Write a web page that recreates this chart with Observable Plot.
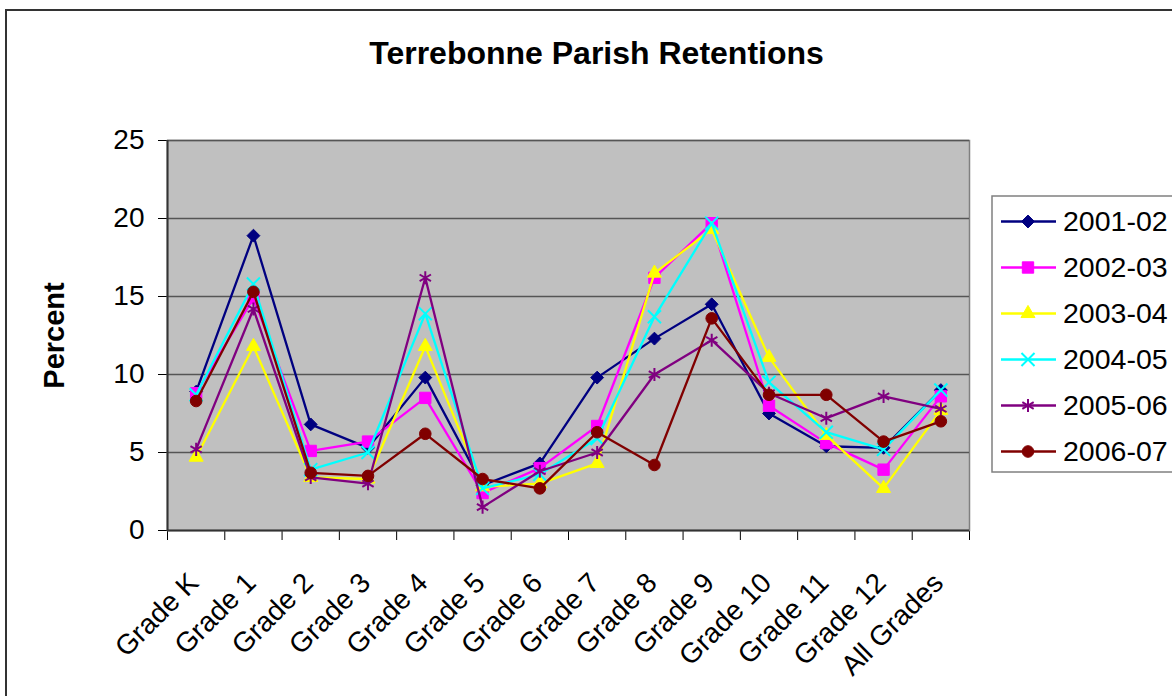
<!DOCTYPE html>
<html><head><meta charset="utf-8">
<script src="https://cdn.jsdelivr.net/npm/d3@7"></script>
<script src="https://cdn.jsdelivr.net/npm/@observablehq/plot@0.6"></script>
<style>
html,body{margin:0;padding:0;background:#fff;}
#wrap{position:relative;width:1172px;height:696px;overflow:hidden;font-family:"Liberation Sans",Arial,sans-serif;}
#border{position:absolute;left:5px;top:9px;width:1300px;height:800px;border:2px solid #333;box-sizing:border-box;pointer-events:none}
#wrap svg{position:absolute;left:0;top:0;}
</style></head><body><div id="wrap"><div id="border"></div></div>
<script>
// ---- data ----
const grades = ["Grade K","Grade 1","Grade 2","Grade 3","Grade 4","Grade 5","Grade 6","Grade 7","Grade 8","Grade 9","Grade 10","Grade 11","Grade 12","All Grades"];
const seriesNames = ["2001-02","2002-03","2003-04","2004-05","2005-06","2006-07"];
const v2001_02 = [8.9, 18.9, 6.8, 5.3, 9.8, 2.9, 4.3, 9.8, 12.3, 14.5, 7.5, 5.4, 5.3, 9.0];
const v2002_03 = [8.8, 14.9, 5.1, 5.7, 8.5, 2.4, 4.0, 6.7, 16.2, 19.7, 8.0, 5.6, 3.9, 8.6];
const v2003_04 = [4.7, 11.8, 3.4, 3.3, 11.8, 2.8, 3.0, 4.3, 16.5, 19.3, 11.1, 6.1, 2.7, 7.7];
const v2004_05 = [8.7, 15.8, 3.9, 5.0, 13.9, 2.7, 3.6, 5.9, 13.7, 19.7, 9.5, 6.3, 5.2, 9.0];
const v2005_06 = [5.2, 14.2, 3.4, 3.0, 16.2, 1.5, 3.8, 5.0, 10.0, 12.2, 8.8, 7.2, 8.6, 7.8];
const v2006_07 = [8.3, 15.3, 3.7, 3.5, 6.2, 3.3, 2.7, 6.3, 4.2, 13.6, 8.7, 8.7, 5.7, 7.0];
const yTicks = [0, 5, 10, 15, 20, 25];
const title = "Terrebonne Parish Retentions";
const yLabel = "Percent";

// ---- styles ----
const series = [v2001_02, v2002_03, v2003_04, v2004_05, v2005_06, v2006_07];
const colors = ["#000080","#FF00FF","#FFFF00","#00FFFF","#800080","#800000"];
const symbols = ["diamond2","square","triangle","times","asterisk","circle"];
const d3Symbols = [d3.symbolDiamond2, d3.symbolSquare, d3.symbolTriangle, d3.symbolTimes, d3.symbolAsterisk, d3.symbolCircle];
const radii = [5.8, 6.4, 5.2, 6.0, 6.2, 5.8];
const filled = [true, true, true, false, false, true];
const font = '"Liberation Sans", Arial, sans-serif';

const rows = vals => vals.map((v, i) => ({i, grade: grades[i], v}));
const xPos = d => d.i + 0.5;

const marks = [
  Plot.frame({fill: "#C0C0C0", stroke: "#808080", strokeWidth: 1.5}),
  Plot.ruleY(yTicks.filter(t => t > 0), {stroke: "#555", strokeWidth: 1.3}),
  Plot.ruleX([0], {stroke: "#333", strokeWidth: 2}),
  Plot.ruleY([0], {stroke: "#333", strokeWidth: 2})
];
series.forEach((vals, k) => {
  const d = rows(vals);
  marks.push(Plot.line(d, {x: xPos, y: "v", stroke: colors[k], strokeWidth: 2.3}));
  marks.push(Plot.dot(d, {
    x: xPos, y: "v", symbol: symbols[k], r: radii[k],
    fill: filled[k] ? colors[k] : "none", stroke: colors[k], strokeWidth: filled[k] ? 1 : 2
  }));
});
marks.push(Plot.text(grades, {
  x: (d, i) => i + 0.5, y: () => 0, text: d => d, rotate: -45,
  textAnchor: "end", lineAnchor: "top", dx: -10, dy: 40, fontSize: 28, fill: "#000"
}));
marks.push(Plot.text([title], {
  frameAnchor: "top", text: d => d, dx: 28, dy: -77, lineAnchor: "bottom",
  fontSize: 32, fontWeight: "bold", fill: "#000"
}));
marks.push(Plot.text([yLabel], {
  frameAnchor: "left", text: d => d, rotate: -90, dx: -104, lineAnchor: "bottom",
  textAnchor: "middle", fontSize: 29, fontWeight: "bold", fill: "#000"
}));

const chart = Plot.plot({
  width: 1172, height: 696,
  marginLeft: 167, marginRight: 203, marginTop: 140, marginBottom: 166,
  style: {fontFamily: font, fontSize: "28px", background: "transparent", color: "#000"},
  x: {domain: [0, grades.length], ticks: d3.range(0, grades.length + 1), tickSize: 10, tickFormat: () => "", label: null},
  y: {domain: [0, 25], ticks: yTicks, tickSize: 9, tickPadding: 14, label: null},
  marks
});
document.getElementById("wrap").appendChild(chart);

// ---- legend ----
const lg = d3.select("#wrap").append("svg").attr("width", 1172).attr("height", 696);
lg.append("rect").attr("x", 992).attr("y", 196).attr("width", 240).attr("height", 276)
  .attr("fill", "#fff").attr("stroke", "#808080").attr("stroke-width", 1.5);
seriesNames.forEach((name, k) => {
  const cy = 221.5 + k * 46;
  const g = lg.append("g");
  g.append("line").attr("x1", 1001).attr("x2", 1056).attr("y1", cy).attr("y2", cy)
    .attr("stroke", colors[k]).attr("stroke-width", 2.3);
  g.append("path").attr("transform", `translate(1028,${cy})`)
    .attr("d", d3.symbol(d3Symbols[k], Math.PI * radii[k] * radii[k])())
    .attr("fill", filled[k] ? colors[k] : "none").attr("stroke", colors[k])
    .attr("stroke-width", filled[k] ? 1 : 2);
  g.append("text").attr("x", 1063).attr("y", cy).attr("dy", "0.35em")
    .attr("font-family", font).attr("font-size", 28.5).attr("fill", "#000").text(name);
});
</script></body></html>
